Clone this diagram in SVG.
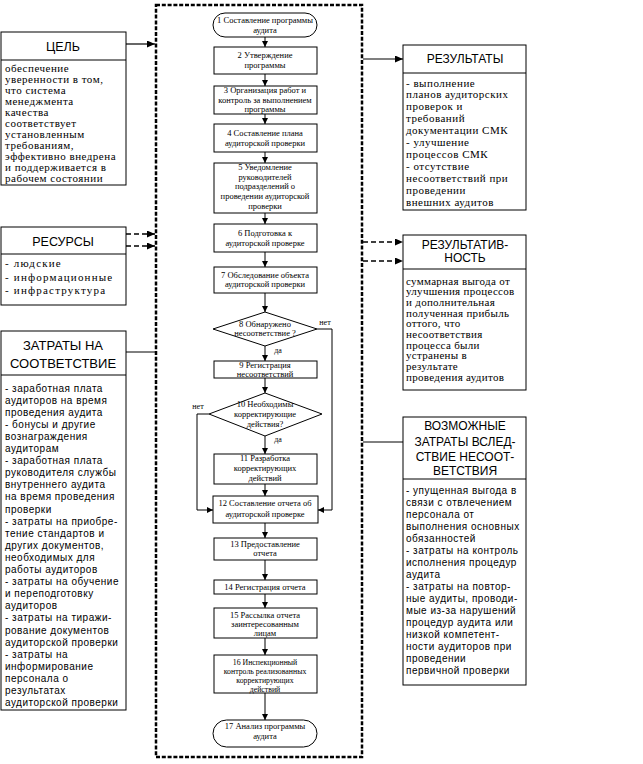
<svg xmlns="http://www.w3.org/2000/svg" width="643" height="764" viewBox="0 0 643 764">
<defs>
<marker id="ah" markerUnits="userSpaceOnUse" markerWidth="8" markerHeight="7" refX="8" refY="3.5" orient="auto"><path d="M0,0 L8,3.5 L0,7 z" fill="#000"/></marker>
<marker id="ahs" markerUnits="userSpaceOnUse" markerWidth="6" markerHeight="6" refX="6" refY="3" orient="auto"><path d="M0,0 L6,3 L0,6 z" fill="#000"/></marker>
</defs>
<style>
.box{fill:#fff;stroke:#000;stroke-width:1}
.hdr{font-family:"Liberation Sans",Arial,sans-serif;font-size:12.5px;text-anchor:middle;fill:#000}
.sb{font-family:"Liberation Sans",Arial,sans-serif;font-size:10px;letter-spacing:0.5px;fill:#000}
.se{font-family:"Liberation Serif","Times New Roman",serif;font-size:11px;letter-spacing:0.5px;fill:#000}
.nt{font-family:"Liberation Serif","Times New Roman",serif;font-size:8.5px;text-anchor:middle;fill:#000}
.ln{fill:none;stroke:#000;stroke-width:1.2}
.fl{fill:none;stroke:#000;stroke-width:1}
.dl{fill:none;stroke:#000;stroke-width:1.5;stroke-dasharray:5 3}
.frame{fill:none;stroke:#000;stroke-width:2.5;stroke-dasharray:4 1.8}
</style>
<rect x="0" y="0" width="643" height="764" fill="#fff"/>
<rect class="frame" x="156" y="5" width="206" height="752"/>

<g id="goal">
<rect class="box" x="1" y="32" width="125" height="153"/>
<line class="fl" x1="1" y1="60" x2="126" y2="60"/>
<text class="hdr" x="63" y="51">ЦЕЛЬ</text>
<text class="se"><tspan x="5" y="71.5">обеспечение</tspan><tspan x="5" y="82.5">уверенности в том,</tspan><tspan x="5" y="93.5">что система</tspan><tspan x="5" y="104.5">менеджмента</tspan><tspan x="5" y="115.5">качества</tspan><tspan x="5" y="126.5">соответствует</tspan><tspan x="5" y="137.5">установленным</tspan><tspan x="5" y="148.5">требованиям,</tspan><tspan x="5" y="159.5">эффективно внедрена</tspan><tspan x="5" y="170.5">и поддерживается в</tspan><tspan x="5" y="181.5">рабочем состоянии</tspan></text>
</g>

<g id="resources">
<rect class="box" x="1" y="227" width="125" height="78"/>
<line class="fl" x1="1" y1="254" x2="126" y2="254"/>
<text class="hdr" x="63" y="246">РЕСУРСЫ</text>
<text class="se" style="letter-spacing:1.2px"><tspan x="5" y="266.5">- людские</tspan><tspan x="5" y="280.5">- информационные</tspan><tspan x="5" y="293.5">- инфраструктура</tspan></text>
</g>

<g id="costs">
<rect class="box" x="1" y="331" width="125" height="379"/>
<line class="fl" x1="1" y1="375" x2="126" y2="375"/>
<text class="hdr" style="font-size:13px"><tspan x="63" y="349.5">ЗАТРАТЫ НА</tspan><tspan x="63" y="367.5">СООТВЕТСТВИЕ</tspan></text>
<text class="sb"><tspan x="5" y="391.5">- заработная плата</tspan><tspan x="5" y="403.6">аудиторов на время</tspan><tspan x="5" y="415.7">проведения аудита</tspan><tspan x="5" y="427.8">- бонусы и другие</tspan><tspan x="5" y="439.9">вознаграждения</tspan><tspan x="5" y="452">аудиторам</tspan><tspan x="5" y="464.1">- заработная плата</tspan><tspan x="5" y="476.2">руководителя службы</tspan><tspan x="5" y="488.3">внутреннего аудита</tspan><tspan x="5" y="500.4">на время проведения</tspan><tspan x="5" y="512.5">проверки</tspan><tspan x="5" y="524.6">- затраты на приобре-</tspan><tspan x="5" y="536.7">тение стандартов и</tspan><tspan x="5" y="548.8">других документов,</tspan><tspan x="5" y="560.9">необходимых для</tspan><tspan x="5" y="573">работы аудиторов</tspan><tspan x="5" y="585.1">- затраты на обучение</tspan><tspan x="5" y="597.2">и переподготовку</tspan><tspan x="5" y="609.3">аудиторов</tspan><tspan x="5" y="621.4">- затраты на тиражи-</tspan><tspan x="5" y="633.5">рование документов</tspan><tspan x="5" y="645.6">аудиторской проверки</tspan><tspan x="5" y="657.7">- затраты на</tspan><tspan x="5" y="669.8">информирование</tspan><tspan x="5" y="681.9">персонала о</tspan><tspan x="5" y="694">результатах</tspan><tspan x="5" y="706.1">аудиторской проверки</tspan></text>
</g>

<g id="results">
<rect class="box" x="403" y="45" width="123" height="165"/>
<line class="fl" x1="403" y1="73" x2="526" y2="73"/>
<text class="hdr" x="465" y="63" style="font-size:12px">РЕЗУЛЬТАТЫ</text>
<text class="se"><tspan x="406" y="86.5">- выполнение</tspan><tspan x="406" y="98.4">планов аудиторских</tspan><tspan x="406" y="110.3">проверок и</tspan><tspan x="406" y="122.2">требований</tspan><tspan x="406" y="134.1">документации СМК</tspan><tspan x="406" y="146">- улучшение</tspan><tspan x="406" y="157.9">процессов СМК</tspan><tspan x="406" y="169.8">- отсутствие</tspan><tspan x="406" y="181.7">несоответствий при</tspan><tspan x="406" y="193.6">проведении</tspan><tspan x="406" y="205.5">внешних аудитов</tspan></text>
</g>

<g id="effectiveness">
<rect class="box" x="403" y="235" width="123" height="155"/>
<line class="fl" x1="403" y1="269" x2="526" y2="269"/>
<text class="hdr" style="font-size:12px"><tspan x="465" y="249">РЕЗУЛЬТАТИВ-</tspan><tspan x="465" y="262">НОСТЬ</tspan></text>
<text class="se" style="letter-spacing:0.3px"><tspan x="406" y="284.5">суммарная выгода от</tspan><tspan x="406" y="295.2">улучшения процессов</tspan><tspan x="406" y="305.9">и дополнительная</tspan><tspan x="406" y="316.6">полученная прибыль</tspan><tspan x="406" y="327.3">оттого, что</tspan><tspan x="406" y="338">несоответствия</tspan><tspan x="406" y="348.7">процесса были</tspan><tspan x="406" y="359.4">устранены в</tspan><tspan x="406" y="370.1">результате</tspan><tspan x="406" y="380.8">проведения аудитов</tspan></text>
</g>

<g id="noncompliance">
<rect class="box" x="403" y="417" width="123" height="268"/>
<line class="fl" x1="403" y1="479" x2="526" y2="479"/>
<text class="hdr" style="font-size:12px"><tspan x="465" y="429.5">ВОЗМОЖНЫЕ</tspan><tspan x="465" y="446">ЗАТРАТЫ ВСЛЕД-</tspan><tspan x="465" y="460.5">СТВИЕ НЕСООТ-</tspan><tspan x="465" y="475">ВЕТСТВИЯ</tspan></text>
<text class="sb"><tspan x="406" y="493.5">- упущенная выгода в</tspan><tspan x="406" y="505.5">связи с отвлечением</tspan><tspan x="406" y="517.5">персонала от</tspan><tspan x="406" y="529.5">выполнения основных</tspan><tspan x="406" y="541.5">обязанностей</tspan><tspan x="406" y="553.5">- затраты на контроль</tspan><tspan x="406" y="565.5">исполнения процедур</tspan><tspan x="406" y="577.5">аудита</tspan><tspan x="406" y="589.5">- затраты на повтор-</tspan><tspan x="406" y="601.5">ные аудиты, проводи-</tspan><tspan x="406" y="613.5">мые из-за нарушений</tspan><tspan x="406" y="625.5">процедур аудита или</tspan><tspan x="406" y="637.5">низкой компетент-</tspan><tspan x="406" y="649.5">ности аудиторов при</tspan><tspan x="406" y="661.5">проведении</tspan><tspan x="406" y="673.5">первичной проверки</tspan></text>
</g>

<g id="n1"><rect class="box" x="213" y="13" width="104" height="24" rx="12"/><text class="nt"><tspan x="265" y="23">1 Составление программы</tspan><tspan x="265" y="33">аудита</tspan></text></g>
<g id="n2"><rect class="box" x="214" y="47" width="103" height="27"/><text class="nt"><tspan x="265" y="57.5">2 Утверждение</tspan><tspan x="265" y="68">программы</tspan></text></g>
<g id="n3"><rect class="box" x="214" y="86" width="103" height="28"/><text class="nt"><tspan x="265" y="93">3 Организация работ и</tspan><tspan x="265" y="102.5">контроль за выполнением</tspan><tspan x="265" y="112">программы</tspan></text></g>
<g id="n4"><rect class="box" x="214" y="124" width="103" height="28"/><text class="nt"><tspan x="265" y="135.5">4 Составление плана</tspan><tspan x="265" y="145.5">аудиторской проверки</tspan></text></g>
<g id="n5"><rect class="box" x="214" y="163" width="103" height="50"/><text class="nt"><tspan x="265" y="170">5 Уведомление</tspan><tspan x="265" y="179.5">руководителей</tspan><tspan x="265" y="189">подразделений о</tspan><tspan x="265" y="199">проведении аудиторской</tspan><tspan x="265" y="209">проверки</tspan></text></g>
<g id="n6"><rect class="box" x="214" y="224" width="103" height="28"/><text class="nt"><tspan x="265" y="236">6 Подготовка к</tspan><tspan x="265" y="245.5">аудиторской проверке</tspan></text></g>
<g id="n7"><rect class="box" x="214" y="267" width="103" height="26"/><text class="nt"><tspan x="265" y="278">7 Обследование объекта</tspan><tspan x="265" y="287">аудиторской проверки</tspan></text></g>
<g id="n8"><polygon class="box" points="265,312 317,329 265,346 213,329"/><text class="nt"><tspan x="265" y="327">8 Обнаружено</tspan><tspan x="265" y="336">несоответствие ?</tspan></text></g>
<g id="n9"><rect class="box" x="214" y="361" width="103" height="17"/><text class="nt"><tspan x="265" y="368">9 Регистрация</tspan><tspan x="265" y="376.5">несоответствий</tspan></text></g>
<g id="n10"><polygon class="box" points="265,393 322,414 265,436 209,414"/><text class="nt"><tspan x="265" y="407">10 Необходимы</tspan><tspan x="265" y="417">корректирующие</tspan><tspan x="265" y="427">действия?</tspan></text></g>
<g id="n11"><rect class="box" x="214" y="454" width="103" height="30"/><text class="nt"><tspan x="265" y="461">11 Разработка</tspan><tspan x="265" y="470.5">корректирующих</tspan><tspan x="265" y="481">действий</tspan></text></g>
<g id="n12"><rect class="box" x="213" y="496" width="105" height="27"/><text class="nt"><tspan x="265" y="506">12 Составление отчета об</tspan><tspan x="265" y="517">аудиторской проверке</tspan></text></g>
<g id="n13"><rect class="box" x="214" y="538" width="103" height="22"/><text class="nt"><tspan x="265" y="547">13 Предоставление</tspan><tspan x="265" y="556">отчета</tspan></text></g>
<g id="n14"><rect class="box" x="214" y="580" width="103" height="14"/><text class="nt"><tspan x="265" y="590">14 Регистрация отчета</tspan></text></g>
<g id="n15"><rect class="box" x="214" y="608" width="103" height="30"/><text class="nt"><tspan x="265" y="618">15 Рассылка отчета</tspan><tspan x="265" y="627">заинтересованным</tspan><tspan x="265" y="636">лицам</tspan></text></g>
<g id="n16"><rect class="box" x="214" y="655" width="103" height="38"/><text class="nt" style="font-size:7.8px"><tspan x="265" y="664.5">16 Инспекционный</tspan><tspan x="265" y="673.5">контроль реализованных</tspan><tspan x="265" y="682.5">корректирующих</tspan><tspan x="265" y="691.5">действий</tspan></text></g>
<g id="n17"><rect class="box" x="213" y="720" width="104" height="27" rx="13.5"/><text class="nt"><tspan x="265" y="729">17 Анализ программы</tspan><tspan x="265" y="739">аудита</tspan></text></g>

<g id="connectors">
<path class="ln" d="M126,44 H155" marker-end="url(#ah)"/>
<path class="dl" d="M126,234 H155" marker-end="url(#ah)"/>
<path class="dl" d="M126,246 H155" marker-end="url(#ah)"/>
<path class="fl" d="M126,352 H155"/>
<path class="ln" d="M363,59 H403" marker-end="url(#ah)"/>
<path class="dl" d="M363,242 H403" marker-end="url(#ah)"/>
<path class="dl" d="M363,261 H403" marker-end="url(#ah)"/>
<path class="fl" d="M363,442 H403"/>
<path class="fl" d="M265,37 V47" marker-end="url(#ahs)"/>
<path class="fl" d="M265,74 V86" marker-end="url(#ahs)"/>
<path class="fl" d="M265,114 V124" marker-end="url(#ahs)"/>
<path class="fl" d="M265,152 V163" marker-end="url(#ahs)"/>
<path class="fl" d="M265,213 V224" marker-end="url(#ahs)"/>
<path class="fl" d="M265,252 V267" marker-end="url(#ahs)"/>
<path class="fl" d="M265,293 V312" marker-end="url(#ahs)"/>
<path class="fl" d="M265,346 V361" marker-end="url(#ahs)"/>
<path class="fl" d="M265,378 V393" marker-end="url(#ahs)"/>
<path class="fl" d="M265,436 V454" marker-end="url(#ahs)"/>
<path class="fl" d="M265,484 V496" marker-end="url(#ahs)"/>
<path class="fl" d="M265,523 V538" marker-end="url(#ahs)"/>
<path class="fl" d="M265,560 V580" marker-end="url(#ahs)"/>
<path class="fl" d="M265,594 V608" marker-end="url(#ahs)"/>
<path class="fl" d="M265,638 V655" marker-end="url(#ahs)"/>
<path class="fl" d="M265,693 V720" marker-end="url(#ahs)"/>
<path class="fl" d="M317,329 H332 V510 H318" marker-end="url(#ahs)"/>
<path class="fl" d="M209,414 H197 V510 H213" marker-end="url(#ahs)"/>
<text class="nt" x="325" y="325" style="font-size:8px">нет</text>
<text class="nt" x="278" y="353" style="font-size:8px">да</text>
<text class="nt" x="198" y="409" style="font-size:8px">нет</text>
<text class="nt" x="278" y="442" style="font-size:8px">да</text>
</g>
</svg>
